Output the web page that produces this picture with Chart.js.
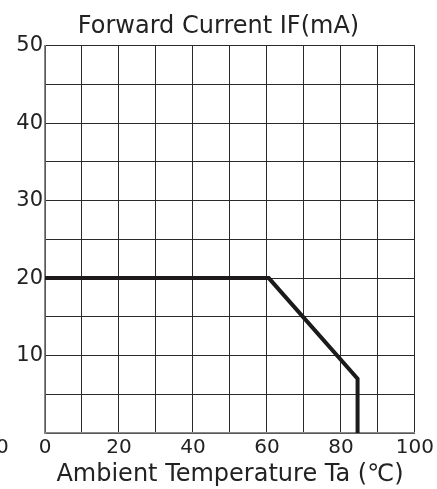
<!DOCTYPE html>
<html>
<head>
<meta charset="utf-8">
<script src="https://cdn.jsdelivr.net/npm/chart.js@4"></script>
<style>
  body { margin: 0; background: #fff; }
  #wrap { width: 437px; height: 489px; }
</style>
</head>
<body>
<div id="wrap"><canvas id="derating" width="437" height="489"></canvas></div>
<script>
const temperatures = [0, 60.5, 84.5, 84.5];
const currents = [20, 20, 7, 0];
const xTickLabels = [0, 20, 40, 60, 80, 100];
const yTickLabels = [10, 20, 30, 40, 50];

const FONT = 'DejaVu Sans';

// Le "0" de l'axe Y est décalé sous l'angle, comme sur l'original
const strayZeroPlugin = {
    id: 'strayZero',
    afterDraw(chart) {
        const ctx = chart.ctx;
        const x = chart.scales.x;
        ctx.save();
        ctx.font = '20px "' + FONT + '"';
        ctx.fillStyle = '#222';
        ctx.textAlign = 'center';
        ctx.textBaseline = 'middle';
        ctx.fillText('0', x.getPixelForValue(-11.5), x.top + 15);
        ctx.restore();
    }
};

new Chart(document.getElementById('derating'), {
    type: 'line',
    data: {
        datasets: [{
            data: temperatures.map((t, i) => ({ x: t, y: currents[i] })),
            borderColor: '#1c1a1a',
            borderWidth: 4,
            pointRadius: 0,
            tension: 0,
            fill: false,
            borderJoinStyle: 'miter'
        }]
    },
    options: {
        responsive: false,
        animation: false,
        devicePixelRatio: 1,
        layout: { padding: { top: 0, right: 0, left: 0, bottom: 0 } },
        plugins: {
            legend: { display: false },
            tooltip: { enabled: false },
            title: {
                display: true,
                text: 'Forward Current IF(mA)',
                color: '#222',
                font: { family: FONT, size: 24, weight: 'normal' },
                padding: { top: 12, bottom: 5 }
            }
        },
        scales: {
            x: {
                type: 'linear',
                min: 0,
                max: 100,
                afterFit: s => { s.height = 56; },
                grid: { color: '#2a2a2a', lineWidth: 1, drawTicks: false },
                border: { color: '#888', width: 1.5 },
                ticks: {
                    stepSize: 10,
                    autoSkip: false,
                    padding: 3,
                    color: '#222',
                    maxRotation: 0,
                    font: { family: FONT, size: 20 },
                    callback: v => xTickLabels.includes(v) ? String(v) : ''
                },
                title: {
                    display: true,
                    text: 'Ambient Temperature Ta (℃)',
                    color: '#222',
                    font: { family: FONT, size: 24 },
                    padding: { top: 0, bottom: 0 }
                }
            },
            y: {
                min: 0,
                max: 50,
                afterFit: s => { s.width = 45; },
                grid: { color: '#2a2a2a', lineWidth: 1, drawTicks: false },
                border: { color: '#888', width: 1.5 },
                ticks: {
                    stepSize: 5,
                    autoSkip: false,
                    padding: 2,
                    color: '#222',
                    font: { family: FONT, size: 21 },
                    callback: v => yTickLabels.includes(v) ? String(v) : ''
                }
            }
        }
    },
    plugins: [strayZeroPlugin]
});
</script>
</body>
</html>
